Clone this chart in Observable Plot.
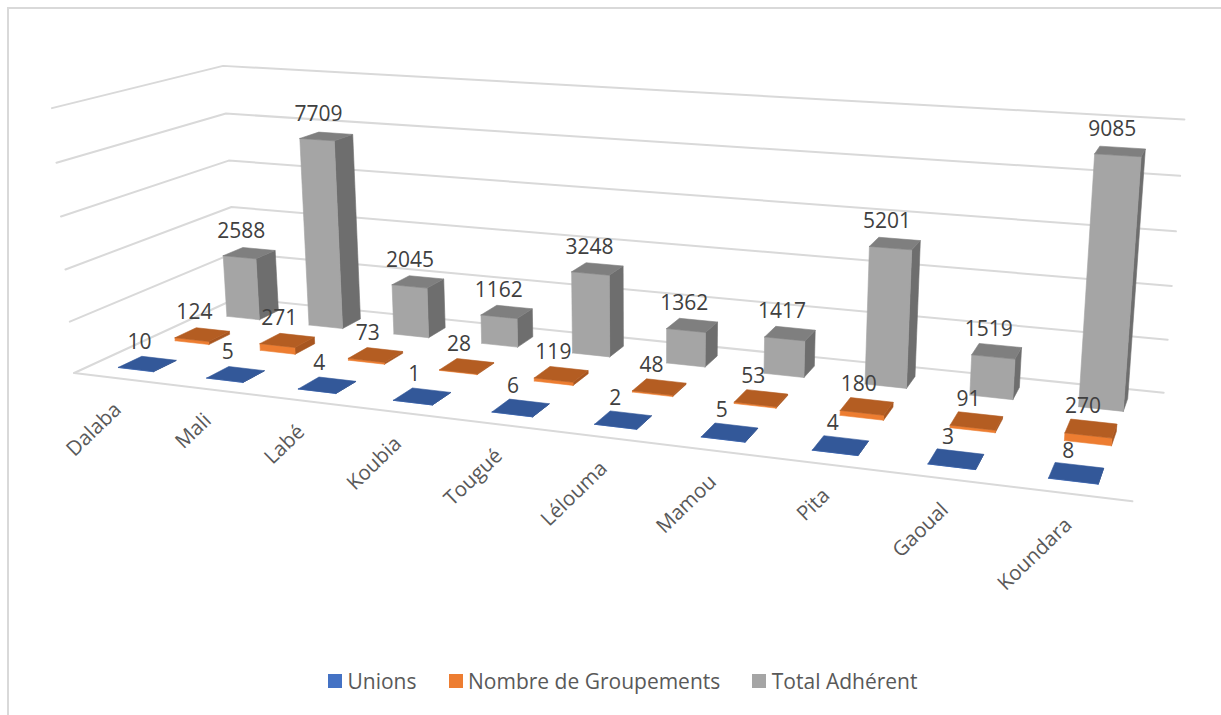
<!DOCTYPE html>
<html><head><meta charset="utf-8">
<script src="https://cdn.jsdelivr.net/npm/d3@7"></script>
<script src="https://cdn.jsdelivr.net/npm/@observablehq/plot@0.6"></script>
<style>
html,body{margin:0;padding:0;background:#fff;width:1221px;height:715px;overflow:hidden;font-family:"Open Sans",sans-serif}
#frame{position:absolute;left:7px;top:7px;width:1300px;height:800px;border:2px solid #D9D9D9;box-sizing:border-box}
#chart{position:absolute;left:0;top:0}
#legend{position:absolute;left:328px;top:664px;white-space:nowrap}
#legend span{margin-right:32px !important}
#legend span svg{margin-right:5.5px !important}
</style></head><body>
<div id="frame"></div><div id="chart"></div><div id="legend"></div>
<script>
const categories=["Dalaba","Mali","Labé","Koubia","Tougué","Lélouma","Mamou","Pita","Gaoual","Koundara"];
const unions=[10,5,4,1,6,2,5,4,3,8];
const groupements=[124,271,73,28,119,48,53,180,91,270];
const adherents=[2588,7709,2045,1162,3248,1362,1417,5201,1519,9085];
const seriesNames=["Unions","Nombre de Groupements","Total Adhérent"];
const tickValues=[0,2000,4000,6000,8000,10000];

const W=1221,H=660,maxValue=10000,barShare=0.4;
const seriesColors=["#4472C4","#ED7D31","#A5A5A5"];
const topColors=["#335899","#B45D22","#7F7F7F"];
const sideColors=["#2B4A82","#A85620","#6E6E6E"];

// Camera: fit a projective map from chart box (u,v,w in 0..1) to the picture.
const anchors=[[0,0,0,73,372],[1,0,0,1132,501],[1,1,0,1163,392],[0,1,0,237,298],
 [0,0,1,52,108],[0,1,1,222,65],[1,1,1,1184,119]];
function fit(){
  const rows=[],rhs=[];
  for(const [u,v,w,X,Y] of anchors){
    rows.push([u,v,w,1,0,0,0,0,-X*u,-X*v,-X*w]);rhs.push(X);
    rows.push([0,0,0,0,u,v,w,1,-Y*u,-Y*v,-Y*w]);rhs.push(Y);
  }
  const n=11,A=d3.range(n).map(i=>d3.range(n+1).map(j=>
    j<n?d3.sum(rows,(r)=>r[i]*r[j]):d3.sum(rows,(r,k)=>r[i]*rhs[k])));
  for(let i=0;i<n;i++){
    let p=i;for(let r=i+1;r<n;r++)if(Math.abs(A[r][i])>Math.abs(A[p][i]))p=r;
    [A[i],A[p]]=[A[p],A[i]];
    for(let r=0;r<n;r++)if(r!==i){const f=A[r][i]/A[i][i];for(let c=i;c<=n;c++)A[r][c]-=f*A[i][c];}
  }
  return A.map((r,i)=>r[n]/r[i]);
}
const m=fit();
function project(u,v,value){
  const w=value/maxValue,d=m[8]*u+m[9]*v+m[10]*w+1;
  return [(m[0]*u+m[1]*v+m[2]*w+m[3])/d,(m[4]*u+m[5]*v+m[6]*w+m[7])/d];
}

// Gridlines and floor edge
const grid=[];
for(const t of tickValues){
  for(const [u,v] of [[0,0],[0,1],[1,1]]){const [x,y]=project(u,v,t);grid.push({x,y,id:"t"+t});}
}
for(const u of [0,1]){const [x,y]=project(u,0,0);grid.push({x,y,id:"front"});}

// Bar faces, back row first
const values=[unions,groupements,adherents];
const faces=[],labels=[];
for(let s=2;s>=0;s--){
  categories.forEach((c,i)=>{
    const val=values[s][i];
    const u0=(i+.5-barShare/2)/10,u1=(i+.5+barShare/2)/10;
    const v0=(s+.5-barShare/2)/3,v1=(s+.5+barShare/2)/3;
    const add=(name,fill,pts)=>{
      [...pts,pts[0]].forEach(p=>{const [x,y]=project(...p);faces.push({x,y,id:`${s}-${i}-${name}`,fill});});
    };
    add("side",sideColors[s],[[u1,v0,0],[u1,v1,0],[u1,v1,val],[u1,v0,val]]);
    add("front",seriesColors[s],[[u0,v0,0],[u1,v0,0],[u1,v0,val],[u0,v0,val]]);
    add("top",topColors[s],[[u0,v0,val],[u1,v0,val],[u1,v1,val],[u0,v1,val]]);
    const [x,y]=project((u0+u1)/2,(v0+v1)/2,val);
    labels.push({x,y,text:String(val)});
  });
}
const catLabels=categories.map((c,i)=>{const [x,y]=project((i+.5)/10,0,0);return {x,y,c};});

const plot=Plot.plot({
  width:W,height:H,margin:0,
  x:{domain:[0,W],range:[0,W],axis:null},
  y:{domain:[0,H],range:[0,H],axis:null},
  color:{type:"identity"},
  style:{background:"transparent",fontFamily:'"Open Sans",sans-serif'},
  marks:[
    Plot.line(grid,{x:"x",y:"y",z:"id",stroke:"#D9D9D9",strokeWidth:2}),
    Plot.line(faces,{x:"x",y:"y",z:"id",fill:"fill",stroke:"fill",strokeWidth:.6}),
    Plot.text(labels,{x:"x",y:"y",text:"text",dx:-8,dy:-22,fontSize:21,fill:"#404040"}),
    Plot.text(catLabels,{x:"x",y:"y",text:"c",dx:0,dy:28,rotate:-44,textAnchor:"end",fontSize:20.5,fill:"#595959"})
  ]
});
document.getElementById("chart").append(plot);

const legend=Plot.legend({color:{type:"ordinal",domain:seriesNames,range:seriesColors},swatchSize:14,
  style:{fontSize:"21px",color:"#595959",fontFamily:'"Open Sans",sans-serif'}});
document.getElementById("legend").append(legend);
</script></body></html>
